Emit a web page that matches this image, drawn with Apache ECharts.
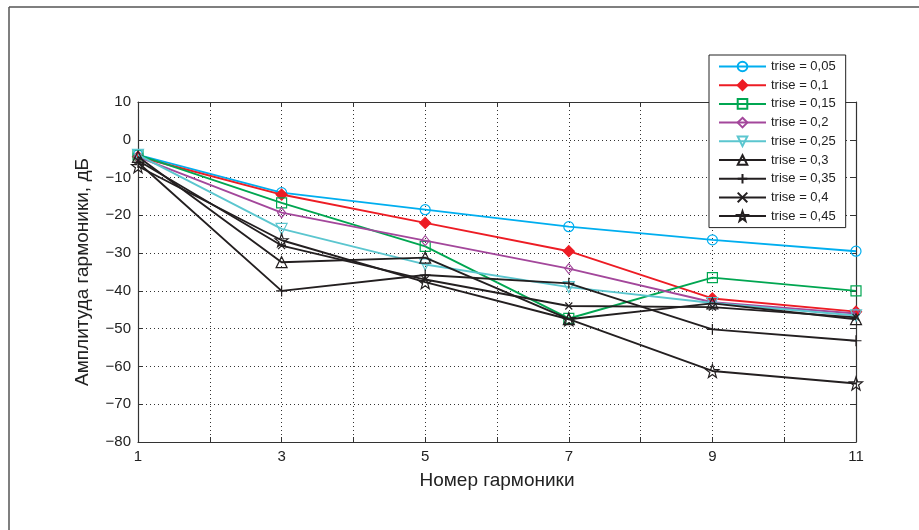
<!DOCTYPE html>
<html>
<head>
<meta charset="utf-8">
<script src="https://cdn.jsdelivr.net/npm/echarts@6/dist/echarts.min.js"></script>
<style>
html,body{margin:0;padding:0;background:#fff;}
#chart{width:919px;height:530px;}
</style>
</head>
<body>
<div id="chart"></div>
<script>
var harmonics = [1, 3, 5, 7, 9, 11];
var xTickLabels = ['1', '3', '5', '7', '9', '11'];
var seriesNames = ['trise = 0,05', 'trise = 0,1', 'trise = 0,15', 'trise = 0,2', 'trise = 0,25', 'trise = 0,3', 'trise = 0,35', 'trise = 0,4', 'trise = 0,45'];
var s005 = [-4, -14, -18.5, -23, -26.5, -29.5];
var s010 = [-4.5, -14.5, -22, -29.5, -42, -45.5];
var s015 = [-4, -16.7, -28.2, -47.3, -36.5, -40];
var s020 = [-4.5, -19.3, -26.7, -34.1, -43, -46];
var s025 = [-4, -23.6, -33, -39, -43.2, -46.5];
var s030 = [-4.5, -32.4, -31.2, -47.5, -43.3, -47.5];
var s035 = [-6, -40, -35.8, -38, -50.2, -53.2];
var s040 = [-5.5, -28, -37, -44, -44.3, -47];
var s045 = [-7, -26.6, -37.7, -47.5, -61.2, -64.5];

var allValues = [s005, s010, s015, s020, s025, s030, s035, s040, s045];
var colors = ['#00aeef', '#ed1c24', '#00a651', '#a3479b', '#5bc6cf', '#231f20', '#231f20', '#231f20', '#231f20'];
var STAR = 'path://M0,-10L2.35,-3.24L9.51,-3.09L3.8,1.24L5.88,8.09L0,4L-5.88,8.09L-3.8,1.24L-9.51,-3.09L-2.35,-3.24Z';
var PLUS = 'path://M0,-10L0,10M-10,0L10,0';
var CROSS = 'path://M-10,-10L10,10M-10,10L10,-10';
var symbols = ['circle', 'diamond', 'rect', 'diamond', 'triangle', 'triangle', PLUS, CROSS, STAR];
var symbolSizes = [10, 11, 10, [8, 10], 11, 11, 11, 7, 13];
var rotates = [0, 0, 0, 0, 180, 0, 0, 0, 0];
var filled = [false, true, false, false, false, false, false, false, false];

var FONT = '"Liberation Sans", Arial, Helvetica, sans-serif';

function fmtMinus(v) { return String(v).replace('-', '\u2212'); }

var series = allValues.map(function (vals, i) {
  return {
    name: seriesNames[i],
    type: 'line',
    data: harmonics.map(function (h, j) { return [h, vals[j]]; }),
    symbol: symbols[i],
    symbolSize: symbolSizes[i],
    symbolRotate: rotates[i],
    showAllSymbol: true,
    lineStyle: { color: colors[i], width: 1.9 },
    itemStyle: {
      color: filled[i] ? colors[i] : 'rgba(255,255,255,0)',
      borderColor: colors[i],
      borderWidth: 1.2
    },
    emphasis: { disabled: true },
    animation: false,
    z: 3 + i
  };
});

var chart = echarts.init(document.getElementById('chart'));
chart.setOption({
  backgroundColor: '#fff',
  animation: false,
  textStyle: { fontFamily: FONT },
  graphic: [
    { type: 'line', shape: { x1: 9, y1: 7, x2: 919, y2: 7 }, style: { stroke: '#555', lineWidth: 1.5 }, silent: true },
    { type: 'line', shape: { x1: 9, y1: 7, x2: 9, y2: 530 }, style: { stroke: '#555', lineWidth: 1.5 }, silent: true }
  ],
  grid: { left: 138, right: 63, top: 102, bottom: 88, containLabel: false },
  legend: {
    data: seriesNames,
    orient: 'vertical',
    left: 709,
    top: 55,
    padding: [5, 10, 5, 9],
    itemWidth: 47,
    itemHeight: 12,
    itemGap: 5.7,
    backgroundColor: '#fff',
    borderColor: '#222',
    borderWidth: 1,
    textStyle: { fontSize: 13, color: '#222', fontFamily: FONT },
    z: 20
  },
  xAxis: [{
    type: 'value',
    min: 1, max: 11, interval: 1,
    name: 'Номер гармоники',
    nameLocation: 'middle',
    nameGap: 29.5,
    nameTextStyle: { fontSize: 19, color: '#222', fontFamily: FONT },
    axisLine: { show: true, onZero: false, lineStyle: { color: '#333', width: 1.2 } },
    axisTick: { show: true, inside: true, length: 5, lineStyle: { color: '#333' } },
    axisLabel: {
      fontSize: 15, color: '#222', margin: 7,
      formatter: function (v) { return xTickLabels.indexOf(String(v)) >= 0 ? String(v) : ''; }
    },
    splitLine: { show: true, lineStyle: { color: '#333', type: [1, 3], width: 1 } }
  }, {
    type: 'value', position: 'top',
    min: 1, max: 11, interval: 1,
    axisLine: { show: true, onZero: false, lineStyle: { color: '#333', width: 1.2 } },
    axisTick: { show: true, inside: true, length: 5, lineStyle: { color: '#333' } },
    axisLabel: { show: false },
    splitLine: { show: false }
  }],
  yAxis: [{
    type: 'value',
    min: -80, max: 10, interval: 10,
    name: 'Амплитуда гармоники, дБ',
    nameLocation: 'middle',
    nameGap: 45.5,
    nameTextStyle: { fontSize: 19, color: '#222', fontFamily: FONT },
    axisLine: { show: true, onZero: false, lineStyle: { color: '#333', width: 1.2 } },
    axisTick: { show: true, inside: true, length: 5, lineStyle: { color: '#333' } },
    axisLabel: { fontSize: 15, color: '#222', margin: 7, formatter: fmtMinus },
    splitLine: { show: true, lineStyle: { color: '#333', type: [1, 3], width: 1 } }
  }, {
    type: 'value', position: 'right',
    min: -80, max: 10, interval: 10,
    axisLine: { show: true, onZero: false, lineStyle: { color: '#333', width: 1.2 } },
    axisTick: { show: true, inside: true, length: 5, lineStyle: { color: '#333' } },
    axisLabel: { show: false },
    splitLine: { show: false }
  }],
  series: series
});
</script>
</body>
</html>
